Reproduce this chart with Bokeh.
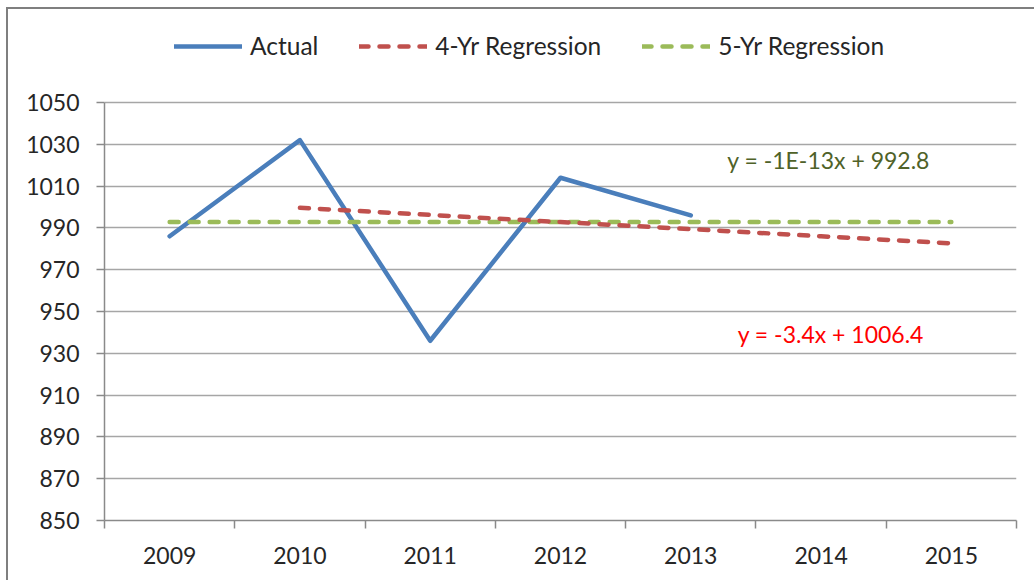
from bokeh.plotting import figure
from bokeh.models import FixedTicker, Legend, LegendItem, Label, Range1d
from bokeh.embed import file_html
from bokeh.resources import INLINE

years = ["2009", "2010", "2011", "2012", "2013", "2014", "2015"]
actual_years = ["2009", "2010", "2011", "2012", "2013"]
actual = [986, 1032, 936, 1014, 996]
reg4_years = ["2010", "2011", "2012", "2013", "2014", "2015"]
reg4 = [999.6, 996.2, 992.8, 989.4, 986.0, 982.6]
reg5_years = ["2009", "2010", "2011", "2012", "2013", "2014", "2015"]
reg5 = [992.8, 992.8, 992.8, 992.8, 992.8, 992.8, 992.8]
y_ticks = [850, 870, 890, 910, 930, 950, 970, 990, 1010, 1030, 1050]
eq4 = "y = -3.4x + 1006.4"
eq5 = "y = -1E-13x + 992.8"

pos = {y: i + 0.5 for i, y in enumerate(years)}

FONT = "Lato"
FS = "23px"
LFS = "24.5px"
TXT = "#262626"
AX = "#8a8a8a"

# layout (pixels): frame spans 20..520 vertically; axis 850..1050 occupies bottom 418 px
FRAME_H = 500
AXIS_H = 418
y_lo, y_hi = y_ticks[0], y_ticks[-1]
y_top = y_lo + (y_hi - y_lo) * FRAME_H / AXIS_H

p = figure(width=1028, height=573,
           x_range=Range1d(0, len(years)), y_range=Range1d(y_lo, y_top),
           output_backend="svg", toolbar_location=None,
           min_border_left=98, min_border_right=18,
           min_border_top=13, min_border_bottom=60)
p.styles = {"margin-left": "6px", "margin-top": "7px",
            "box-shadow": "inset 2px 2px 0 0 #7f7f7f"}
p.border_fill_color = None
p.background_fill_color = "white"
p.outline_line_color = None
p.xgrid.visible = False
p.ygrid.grid_line_color = "#a6a6a6"
p.ygrid.grid_line_width = 1.5

# axes
p.yaxis.ticker = FixedTicker(ticks=y_ticks)
p.yaxis.bounds = (y_lo, y_hi)
p.yaxis.axis_line_color = AX
p.yaxis.axis_line_width = 1.5
p.yaxis.major_tick_line_color = AX
p.yaxis.major_tick_line_width = 1.5
p.yaxis.major_tick_out = 8
p.yaxis.major_tick_in = 0
p.yaxis.minor_tick_line_color = None
p.yaxis.major_label_standoff = 17
p.yaxis.major_label_text_font = FONT
p.yaxis.major_label_text_font_size = FS
p.yaxis.major_label_text_color = TXT

centers = [pos[y] for y in years]
bounds = [float(i) for i in range(len(years) + 1)]
p.xaxis.ticker = FixedTicker(ticks=centers, minor_ticks=bounds)
p.xaxis.major_label_overrides = {pos[y]: y for y in years}
p.xaxis.axis_line_color = AX
p.xaxis.axis_line_width = 1.5
p.xaxis.major_tick_line_color = None
p.xaxis.major_tick_out = 8
p.xaxis.minor_tick_line_color = AX
p.xaxis.minor_tick_line_width = 1.5
p.xaxis.minor_tick_out = 8
p.xaxis.minor_tick_in = 0
p.xaxis.major_label_standoff = 18
p.xaxis.major_label_text_font = FONT
p.xaxis.major_label_text_font_size = FS
p.xaxis.major_label_text_color = TXT

r_act = p.line([pos[y] for y in actual_years], actual, line_color="#4a7ebb",
               line_width=4.5, line_cap="round", line_join="round")
r4 = p.line([pos[y] for y in reg4_years], reg4, line_color="#c0504d",
            line_width=4.5, line_dash="9 11", line_cap="round")
r5 = p.line([pos[y] for y in reg5_years], reg5, line_color="#9bbb59",
            line_width=4.5, line_dash="9 11", line_cap="round")
r4.level = "overlay"

legend = Legend(items=[LegendItem(label="Actual", renderers=[r_act]),
                       LegendItem(label="4-Yr Regression", renderers=[r4]),
                       LegendItem(label="5-Yr Regression", renderers=[r5])],
                orientation="horizontal", location=(70, 460),
                glyph_width=68, glyph_height=26, label_height=26,
                label_standoff=8, spacing=41, padding=0, margin=0,
                border_line_color=None, background_fill_alpha=0,
                label_text_font=FONT, label_text_font_size=LFS,
                label_text_color=TXT)
p.add_layout(legend)

p.add_layout(Label(x=4.78, y=1022.3, text=eq5, text_baseline="middle",
                   text_font=FONT, text_font_size=FS, text_color="#4f6228"))
p.add_layout(Label(x=4.86, y=939.0, text=eq4, text_baseline="middle",
                   text_font=FONT, text_font_size=FS, text_color="#ff0000"))

html = file_html(p, INLINE)
html = html.replace("<head>", "<head><style>html,body{overflow:hidden;}</style>", 1)
open("out.html", "w").write(html)
